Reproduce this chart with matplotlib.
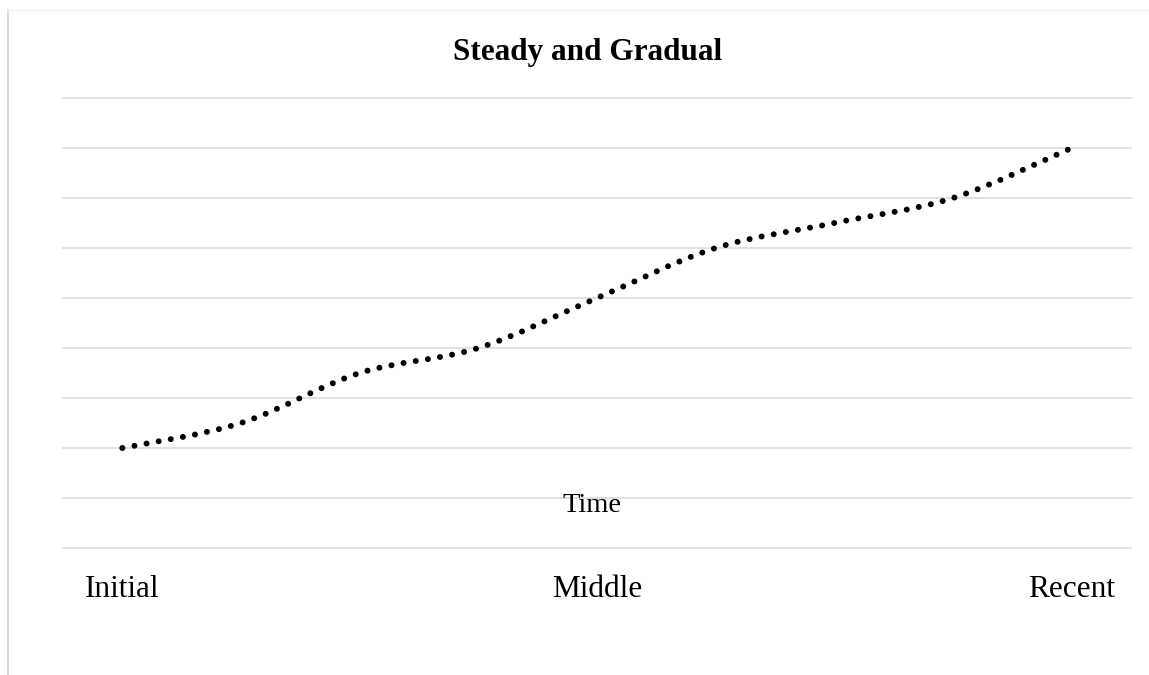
import numpy as np
import matplotlib
matplotlib.use("Agg")
import matplotlib.pyplot as plt
from matplotlib.path import Path
from matplotlib.patches import PathPatch
from matplotlib.lines import Line2D
import matplotlib.transforms as mtransforms

# series values, one per period
periods = list(range(9))
values = [2.0, 2.5, 3.5, 4.0, 5.0, 6.0, 6.5, 7.0, 8.0]

# labels under the axis and where they sit
tick_pos = [0, 4, 8]
tick_labels = ["Initial", "Middle", "Recent"]
title = "Steady and Gradual"
axis_title = "Time"

plt.rcParams["font.family"] = ["Liberation Serif", "DejaVu Serif"]

W, H = 1149, 675
fig = plt.figure(figsize=(W / 100, H / 100), dpi=100)
ax = fig.add_axes([63 / W, 1 - 548 / H, 1068 / W, 450 / H])

ax.set_xlim(-0.5, 8.5)
ax.set_ylim(0, 9)
ax.set_yticks(range(10))
ax.set_xticks([])
ax.tick_params(left=False, labelleft=False)
for s in ax.spines.values():
    s.set_visible(False)
ax.yaxis.grid(True, color="#d9d9d9", linewidth=1.1)
for gl in ax.get_ygridlines():
    gl.set_clip_on(False)
ax.set_axisbelow(True)

# smoothed line: cubic bezier segments through the points (catmull-rom style)
pts = np.column_stack([periods, values]).astype(float)
verts = [tuple(pts[0])]
codes = [Path.MOVETO]
n = len(pts)
for i in range(n - 1):
    p0 = pts[max(i - 1, 0)]
    p1 = pts[i]
    p2 = pts[i + 1]
    p3 = pts[min(i + 2, n - 1)]
    c1 = p1 + (p2 - p0) / 6
    c2 = p2 - (p3 - p1) / 6
    verts += [tuple(c1), tuple(c2), tuple(p2)]
    codes += [Path.CURVE4] * 3

patch = PathPatch(Path(verts, codes), facecolor="none", edgecolor="black",
                  linewidth=4.3, linestyle=(0, (0.01, 2.05)), capstyle="round")
ax.add_patch(patch)

# category labels below the plot
trans = mtransforms.blended_transform_factory(ax.transData, fig.transFigure)
for x, lab in zip(tick_pos, tick_labels):
    ax.text(x, 1 - 597 / H, lab, transform=trans, ha="center", va="baseline",
            fontsize=22.5)

ax.text(592 / W, 1 - 512 / H, axis_title, transform=fig.transFigure,
        ha="center", va="baseline", fontsize=20.5)

fig.text(588 / W, 1 - 60 / H, title, ha="center", va="baseline",
         fontsize=22.5, fontweight="bold")

# chart area border (left and top edges)
fig.add_artist(Line2D([8 / W, 8 / W], [0, 1 - 10 / H], color="#d9d9d9",
                      linewidth=1.4, transform=fig.transFigure))
fig.add_artist(Line2D([8 / W, 1], [1 - 10 / H, 1 - 10 / H], color="#f3f3f3",
                      linewidth=1.0, transform=fig.transFigure))

fig.savefig("out.png", dpi=100, facecolor="white")
